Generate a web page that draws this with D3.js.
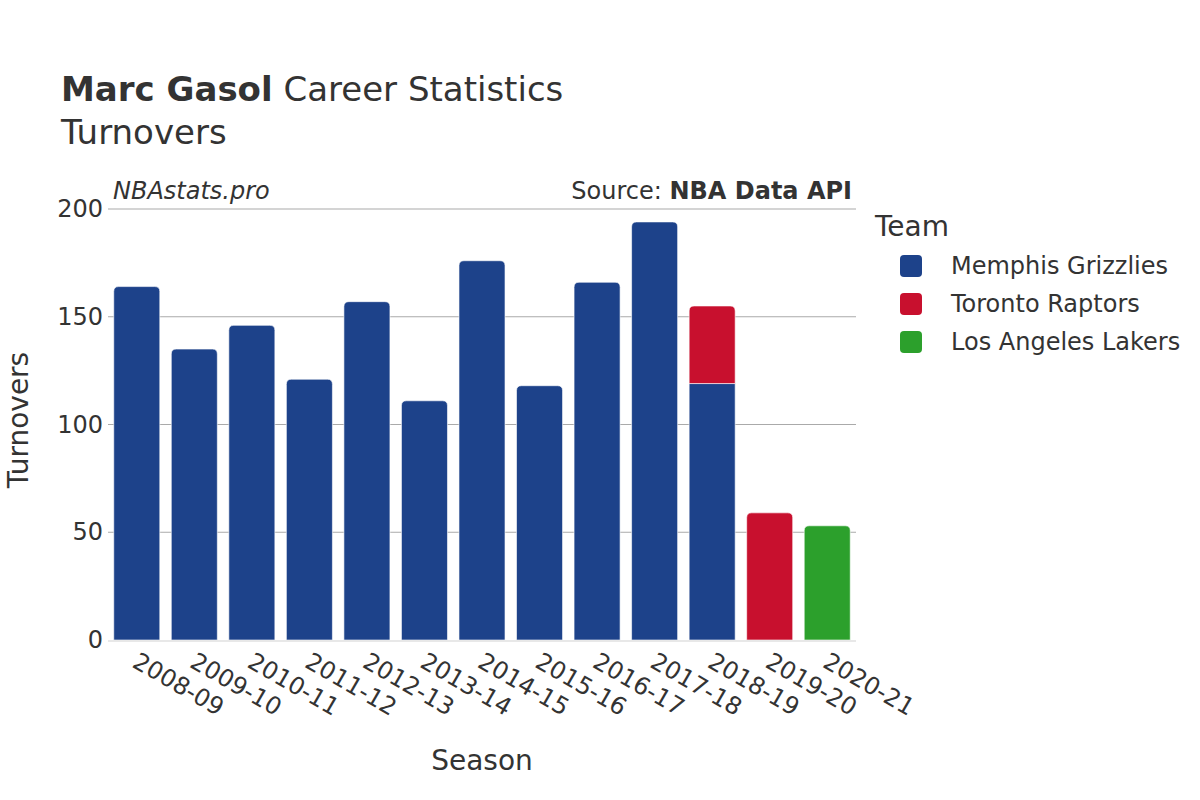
<!DOCTYPE html>
<html>
<head>
<meta charset="utf-8">
<script src="https://cdn.jsdelivr.net/npm/d3@7"></script>
<style>
  body { margin: 0; background: #fff; }
  text { font-family: "DejaVu Sans", sans-serif; fill: #333; }
</style>
</head>
<body>
<svg id="chart" width="1200" height="800"></svg>
<script>
const seasons = ['2008-09', '2009-10', '2010-11', '2011-12', '2012-13', '2013-14', '2014-15',
  '2015-16', '2016-17', '2017-18', '2018-19', '2019-20', '2020-21'];
const teams = ['Memphis Grizzlies', 'Toronto Raptors', 'Los Angeles Lakers'];
const teamColors = ['#1d428a', '#c8102e', '#2ca02c'];
const memphis = [164, 135, 146, 121, 157, 111, 176, 118, 166, 194, 119, 0, 0];
const toronto = [0, 0, 0, 0, 0, 0, 0, 0, 0, 0, 36, 59, 0];
const lakers = [0, 0, 0, 0, 0, 0, 0, 0, 0, 0, 0, 0, 53];
const yTicks = [0, 50, 100, 150, 200];

const rows = seasons.map((s, i) => ({
  season: s,
  'Memphis Grizzlies': memphis[i],
  'Toronto Raptors': toronto[i],
  'Los Angeles Lakers': lakers[i]
}));

const plotLeft = 108, plotRight = 856, plotTop = 209, plotBottom = 640;

const svg = d3.select('#chart');

const x = d3.scaleBand().domain(seasons).range([plotLeft, plotRight]).paddingInner(0.2).paddingOuter(0.1);
const y = d3.scaleLinear().domain([0, 200]).range([plotBottom, plotTop]);
const color = d3.scaleOrdinal().domain(teams).range(teamColors);

// gridlines
svg.append('g').selectAll('line').data(yTicks.filter(t => t > 0)).enter().append('line')
  .attr('x1', plotLeft).attr('x2', plotRight)
  .attr('y1', d => y(d)).attr('y2', d => y(d))
  .attr('stroke', '#aaa').attr('stroke-width', 1.2);

const stacked = d3.stack().keys(teams)(rows);

// top segment of each season gets the rounded corners
const topKey = {};
rows.forEach(r => {
  teams.forEach(t => { if (r[t] > 0) topKey[r.season] = t; });
});

function barPath(x0, y0, w, h, r) {
  if (r <= 0) return `M${x0},${y0}h${w}v${h}h${-w}Z`;
  return `M${x0},${y0 + h}V${y0 + r}Q${x0},${y0} ${x0 + r},${y0}H${x0 + w - r}Q${x0 + w},${y0} ${x0 + w},${y0 + r}V${y0 + h}Z`;
}

const layers = svg.append('g').selectAll('g').data(stacked).enter().append('g')
  .attr('fill', d => color(d.key));

layers.selectAll('path').data(d => d.map(v => ({ key: d.key, v })).filter(d => d.v[1] - d.v[0] > 0))
  .enter().append('path')
  .attr('d', d => {
    const x0 = x(d.v.data.season);
    const y0 = y(d.v[1]);
    const h = y(d.v[0]) - y(d.v[1]);
    const r = topKey[d.v.data.season] === d.key ? 5 : 0;
    return barPath(x0, y0, x.bandwidth(), h, r);
  })
  .attr('stroke', '#ffffff').attr('stroke-opacity', 0.6).attr('stroke-width', 1);

// zero line
svg.append('line').attr('x1', plotLeft).attr('x2', plotRight).attr('y1', y(0) + 1).attr('y2', y(0) + 1)
  .attr('stroke', '#e8e8e8').attr('stroke-width', 2);

// y axis labels
const yAxis = d3.axisLeft(y).tickValues(yTicks).tickSize(0).tickPadding(5);
const yG = svg.append('g').attr('transform', `translate(${plotLeft},0)`).call(yAxis);
yG.select('.domain').remove();
yG.selectAll('text').style('font-size', '24px').attr('fill', '#333').attr('font-family', 'DejaVu Sans');

// x axis labels
const xAxis = d3.axisBottom(x).tickSize(0).tickPadding(0);
const xG = svg.append('g').attr('transform', `translate(0,${plotBottom})`).call(xAxis);
xG.select('.domain').remove();
xG.selectAll('text')
  .style('font-size', '24px').attr('fill', '#333').attr('font-family', 'DejaVu Sans')
  .attr('text-anchor', 'start').attr('dy', null).attr('y', 0)
  .attr('transform', 'translate(3,11) rotate(30)')
  .attr('dominant-baseline', 'hanging');

// titles
const title = svg.append('text').attr('x', 61).attr('y', 101).style('font-size', '34px');
title.append('tspan').attr('font-weight', 'bold').text('Marc Gasol');
title.append('tspan').text(' Career Statistics');
svg.append('text').attr('x', 61).attr('y', 144).style('font-size', '34px').text('Turnovers');

svg.append('text').attr('x', 113).attr('y', 199).style('font-size', '24px').style('font-style', 'italic')
  .text('NBAstats.pro');
const src = svg.append('text').attr('x', 852).attr('y', 199).attr('text-anchor', 'end').style('font-size', '24px');
src.append('tspan').text('Source: ');
src.append('tspan').attr('font-weight', 'bold').text('NBA Data API');

svg.append('text').attr('transform', 'translate(28,420) rotate(-90)').attr('text-anchor', 'middle')
  .style('font-size', '28px').text('Turnovers');
svg.append('text').attr('x', 482).attr('y', 770).attr('text-anchor', 'middle')
  .style('font-size', '28px').text('Season');

// legend
const legend = svg.append('g');
legend.append('text').attr('x', 875).attr('y', 236).style('font-size', '28px').text('Team');
const items = legend.selectAll('g.item').data(teams).enter().append('g').attr('class', 'item')
  .attr('transform', (d, i) => `translate(0,${266 + i * 38})`);
items.append('rect').attr('x', 900).attr('y', -11).attr('width', 22).attr('height', 22).attr('rx', 4)
  .attr('fill', d => color(d));
items.append('text').attr('x', 951).attr('y', 0).attr('dy', '0.35em').style('font-size', '24px').text(d => d);
</script>
</body>
</html>
